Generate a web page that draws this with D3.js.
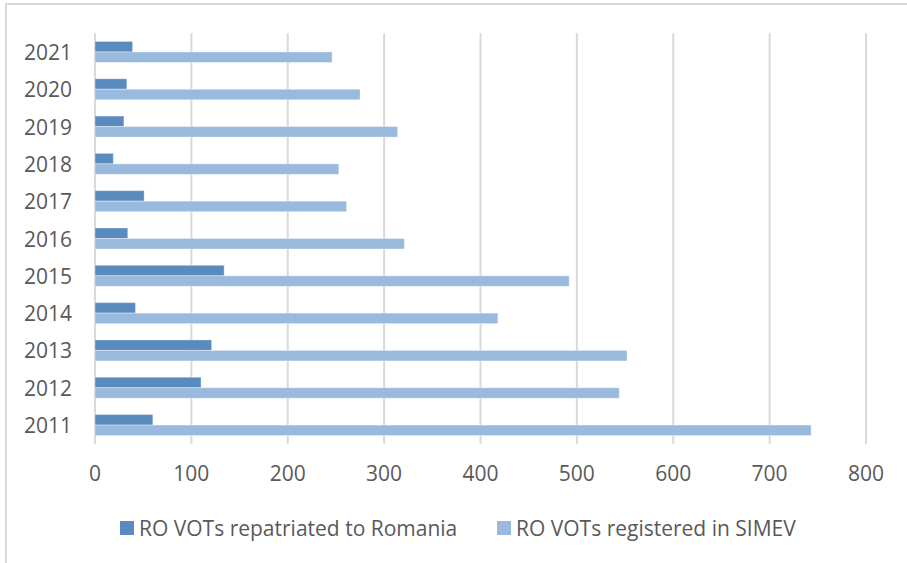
<!DOCTYPE html>
<html>
<head>
<meta charset="utf-8">
<script src="https://cdn.jsdelivr.net/npm/d3@7"></script>
<style>
  html, body { margin: 0; padding: 0; background: #fff; }
  svg { display: block; }
  text { font-family: "Open Sans", Lato, sans-serif; fill: #595959; }
</style>
</head>
<body>
<svg id="chart" width="907" height="563"></svg>
<script>
// Years shown on the category axis, bottom to top
const years = ["2011", "2012", "2013", "2014", "2015", "2016", "2017", "2018", "2019", "2020", "2021"];
// Victims of trafficking repatriated to Romania
const repatriated = [60, 110, 121, 42, 134, 34, 51, 19, 30, 33, 39];
// Victims of trafficking registered in SIMEV
const registered = [743, 544, 552, 418, 492, 321, 261, 253, 314, 275, 246];
const seriesNames = ["RO VOTs repatriated to Romania", "RO VOTs registered in SIMEV"];
const xTicks = [0, 100, 200, 300, 400, 500, 600, 700, 800];

const colors = ["#5A8BBE", "#9ABADD"];
const rows = years.map((y, i) => ({ year: y, values: [repatriated[i], registered[i]] }));

const svg = d3.select("#chart");

// chart area frame
svg.append("rect")
  .attr("x", 6).attr("y", 4)
  .attr("width", 940).attr("height", 620)
  .attr("fill", "none")
  .attr("stroke", "#d9d9d9")
  .attr("stroke-width", 2);

const x = d3.scaleLinear().domain([0, 800]).range([95, 866]);
const y = d3.scaleBand()
  .domain(years.slice().reverse())
  .range([33.3, 443.7])
  .paddingInner(0.437)
  .paddingOuter(0.2185);
const ySub = d3.scaleBand().domain([0, 1]).range([0, y.bandwidth()]);

// vertical gridlines
svg.append("g").selectAll("line")
  .data(xTicks)
  .join("line")
  .attr("x1", d => x(d)).attr("x2", d => x(d))
  .attr("y1", 33.3).attr("y2", 443.7)
  .attr("stroke", "#d9d9d9")
  .attr("stroke-width", 2);

// bars
const groups = svg.append("g").selectAll("g")
  .data(rows)
  .join("g")
  .attr("transform", d => `translate(0,${y(d.year)})`);

groups.selectAll("rect")
  .data(d => d.values.map((v, k) => ({ v, k })))
  .join("rect")
  .attr("x", x(0))
  .attr("y", d => ySub(d.k))
  .attr("width", d => x(d.v) - x(0))
  .attr("height", ySub.bandwidth())
  .attr("fill", d => colors[d.k])
  .attr("stroke", "#ffffff")
  .attr("stroke-opacity", 0.35)
  .attr("stroke-width", 1);

// x-axis labels
svg.append("g").selectAll("text")
  .data(xTicks)
  .join("text")
  .attr("x", d => x(d))
  .attr("y", 473)
  .attr("text-anchor", "middle")
  .attr("dominant-baseline", "central")
  .attr("font-size", 21)
  .text(d => d);

// y-axis labels
svg.append("g").selectAll("text")
  .data(years)
  .join("text")
  .attr("x", 72)
  .attr("y", d => y(d) + y.bandwidth() / 2)
  .attr("text-anchor", "end")
  .attr("dominant-baseline", "central")
  .attr("font-size", 21)
  .text(d => d);

// legend
const legendX = [120, 497];
const legend = svg.append("g").selectAll("g")
  .data(seriesNames)
  .join("g")
  .attr("transform", (d, i) => `translate(${legendX[i]},528)`);
legend.append("rect")
  .attr("x", 0).attr("y", -7)
  .attr("width", 14).attr("height", 14)
  .attr("fill", (d, i) => colors[i]);
legend.append("text")
  .attr("x", 19)
  .attr("y", 0)
  .attr("dominant-baseline", "central")
  .attr("font-size", 21)
  .text(d => d);
</script>
</body>
</html>
